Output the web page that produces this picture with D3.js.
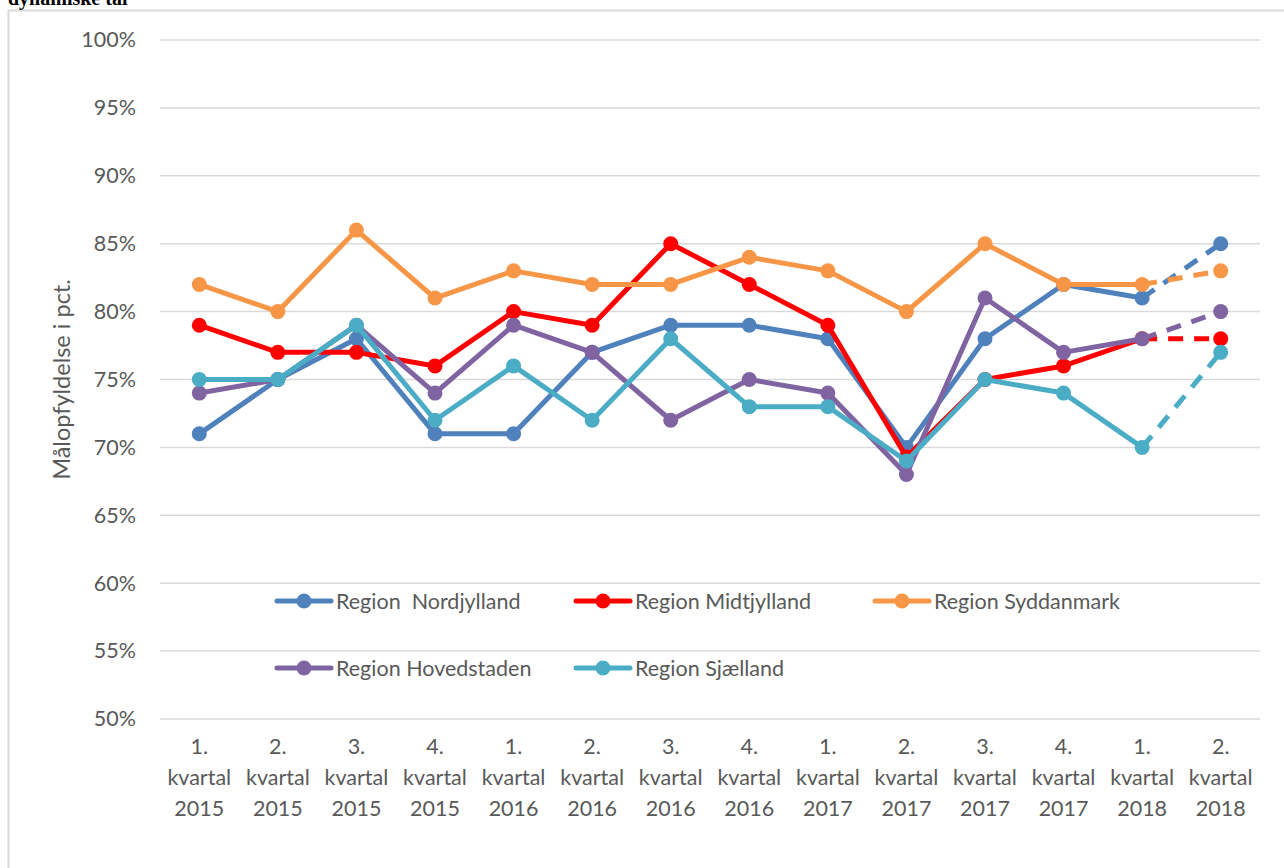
<!DOCTYPE html>
<html>
<head>
<meta charset="utf-8">
<script src="https://cdn.jsdelivr.net/npm/d3@7"></script>
<style>
  body { margin: 0; background: #fff; }
  svg { display: block; }
  text { font-family: Lato, "Open Sans", sans-serif; fill: #595959; }
</style>
</head>
<body>
<script>
const kvartaler = ['1. kvartal 2015', '2. kvartal 2015', '3. kvartal 2015', '4. kvartal 2015',
  '1. kvartal 2016', '2. kvartal 2016', '3. kvartal 2016', '4. kvartal 2016',
  '1. kvartal 2017', '2. kvartal 2017', '3. kvartal 2017', '4. kvartal 2017',
  '1. kvartal 2018', '2. kvartal 2018']

const nordjylland = [71, 75, 78, 71, 71, 77, 79, 79, 78, 70, 78, 82, 81, 85]
const midtjylland = [79, 77, 77, 76, 80, 79, 85, 82, 79, 69.3, 75, 76, 78, 78]
const syddanmark = [82, 80, 86, 81, 83, 82, 82, 84, 83, 80, 85, 82, 82, 83]
const hovedstaden = [74, 75, 79, 74, 79, 77, 72, 75, 74, 68, 81, 77, 78, 80]
const sjaelland = [75, 75, 79, 72, 76, 72, 78, 73, 73, 69, 75, 74, 70, 77]

const yTicks = [50, 55, 60, 65, 70, 75, 80, 85, 90, 95, 100]

const serier = [
  {navn: 'Region  Nordjylland', vaerdier: nordjylland, farve: '#4f81bd'},
  {navn: 'Region Midtjylland', vaerdier: midtjylland, farve: '#ff0000'},
  {navn: 'Region Syddanmark', vaerdier: syddanmark, farve: '#f79646'},
  {navn: 'Region Hovedstaden', vaerdier: hovedstaden, farve: '#8064a2'},
  {navn: 'Region Sjælland', vaerdier: sjaelland, farve: '#4bacc6'}
]

const bredde = 1284
const hoejde = 868
const plot = {venstre: 160, hoejre: 1260, top: 40, bund: 719}
const skrift = '21.5px'

const svg = d3.select('body').append('svg').attr('width', bredde).attr('height', hoejde)

// ramme
svg.append('path')
  .attr('d', 'M8.5,' + hoejde + ' V10.5 H' + bredde)
  .attr('fill', 'none').attr('stroke', '#d9d9d9').attr('stroke-width', 2)

svg.append('text')
  .attr('x', 8).attr('y', 5)
  .style('font-family', '"Liberation Serif", "Times New Roman", serif')
  .style('font-weight', 'bold').style('font-size', '20px').style('fill', '#000')
  .text('dynamiske tal')

const x = d3.scalePoint().domain(kvartaler).range([plot.venstre, plot.hoejre]).padding(0.5)
const y = d3.scaleLinear().domain([50, 100]).range([plot.bund, plot.top])

// gitterlinjer
svg.append('g').selectAll('line').data(yTicks).join('line')
  .attr('x1', plot.venstre).attr('x2', plot.hoejre)
  .attr('y1', d => y(d)).attr('y2', d => y(d))
  .attr('stroke', '#d9d9d9').attr('stroke-width', 1.5)

// y-akse
const eixoY = d3.axisLeft(y).tickValues(yTicks).tickSize(0).tickPadding(0).tickFormat(d => d + '%')
const gY = svg.append('g').attr('transform', 'translate(136,0)').call(eixoY)
gY.select('.domain').remove()
gY.selectAll('text').style('font-size', skrift).style('fill', '#595959').style('font-family', 'Lato, sans-serif')

svg.append('text')
  .attr('transform', 'translate(70,' + ((plot.top + plot.bund) / 2) + ') rotate(-90)')
  .attr('text-anchor', 'middle')
  .style('font-size', '23.5px')
  .text('Målopfyldelse i pct.')

// x-akse
const gX = svg.append('g')
gX.selectAll('text').data(kvartaler).join('text')
  .attr('text-anchor', 'middle')
  .attr('x', d => x(d))
  .attr('y', 754)
  .style('font-size', skrift)
  .each(function (d) {
    const dele = d.split(' ')
    d3.select(this).selectAll('tspan').data([dele[0], dele[1], dele[2]]).join('tspan')
      .attr('x', x(d))
      .attr('dy', (t, i) => i === 0 ? 0 : 31)
      .text(t => t)
  })

// linjer
const linje = d3.line().x((v, i) => x(kvartaler[i])).y(v => y(v))
const n = kvartaler.length

serier.forEach(s => {
  const g = svg.append('g')
  const fast = s.vaerdier.slice(0, n - 1)
  g.append('path')
    .attr('d', linje(fast))
    .attr('fill', 'none').attr('stroke', s.farve).attr('stroke-width', 5)
    .attr('stroke-linejoin', 'round')
  g.append('path')
    .attr('d', 'M' + x(kvartaler[n - 2]) + ',' + y(s.vaerdier[n - 2]) + 'L' + x(kvartaler[n - 1]) + ',' + y(s.vaerdier[n - 1]))
    .attr('fill', 'none').attr('stroke', s.farve).attr('stroke-width', 5)
    .attr('stroke-dasharray', '15,11')
  g.selectAll('circle').data(s.vaerdier).join('circle')
    .attr('cx', (v, i) => x(kvartaler[i]))
    .attr('cy', v => y(v))
    .attr('r', 7.5)
    .attr('fill', s.farve)
})

// forklaring
const legendePos = [[277, 601], [576, 601], [875, 601], [277, 668], [576, 668]]
serier.forEach((s, i) => {
  const g = svg.append('g').attr('transform', 'translate(' + legendePos[i][0] + ',' + legendePos[i][1] + ')')
  g.append('line').attr('x1', 0).attr('x2', 54).attr('stroke', s.farve).attr('stroke-width', 5).attr('stroke-linecap', 'round')
  g.append('circle').attr('cx', 27).attr('r', 7.5).attr('fill', s.farve)
  g.append('text').attr('x', 59).attr('y', 8).style('font-size', skrift).style('white-space', 'pre').text(s.navn)
})
</script>
</body>
</html>
